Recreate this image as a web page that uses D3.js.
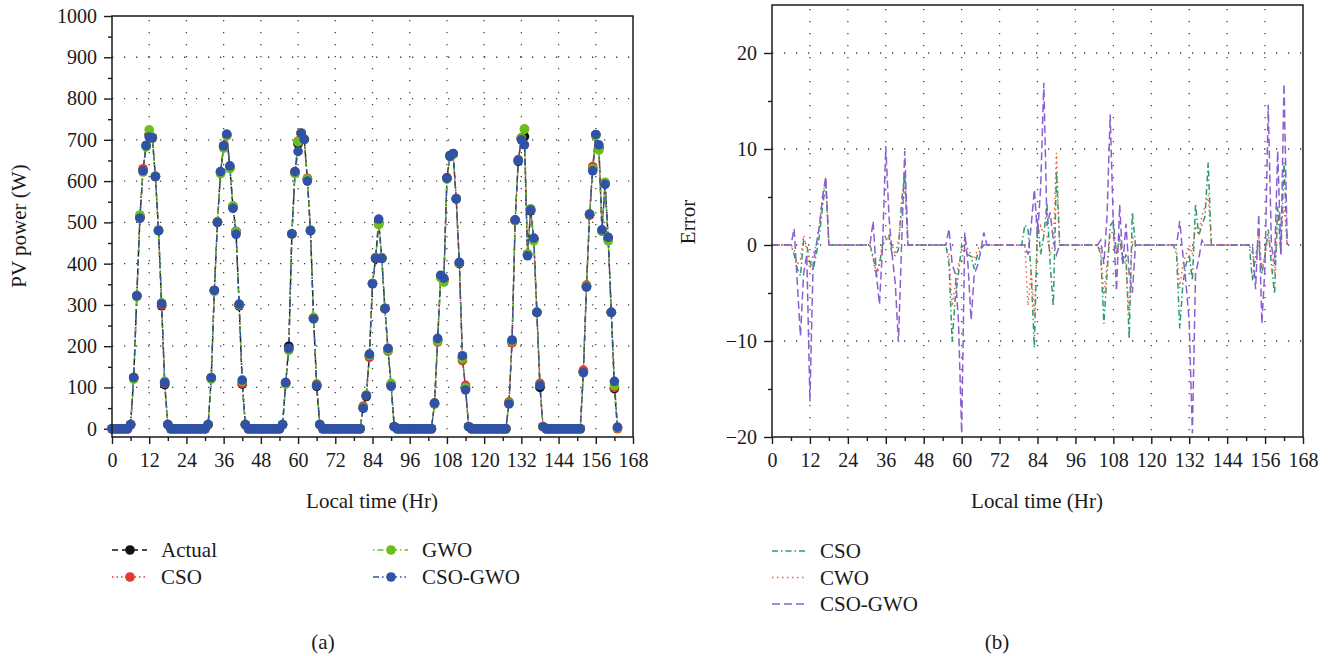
<!DOCTYPE html>
<html>
<head>
<meta charset="utf-8">
<script src="https://cdn.jsdelivr.net/npm/d3@7"></script>
<style>
  body { margin: 0; background: #fff; }
  svg { display: block; font-family: "Liberation Serif", "Times New Roman", serif; }
  .tick text { font-size: 20px; fill: #1a1a1a; }
  .tick line { stroke: #1a1a1a; stroke-width: 1.4; }
</style>
</head>
<body>
<div id="chart"></div>
<script>
// hourly time base, 0..163
const hours = d3.range(0, 164)

// (a) measured and forecast PV power (W)
const actual = [
  0,0,0,0,0,0,
  10,124,322,512,625,686,712,705,611,480,298,107,10,
  0,0,0,0,0,0,0,0,0,0,0,0,
  10,123,335,500,620,685,712,632,538,478,298,108,10,
  0,0,0,0,0,0,0,0,0,0,0,
  10,110,200,472,620,690,716,701,605,480,268,103,10,
  0,0,0,0,0,0,0,0,0,0,0,0,0,
  50,78,178,352,412,500,413,291,192,106,5,
  0,0,0,0,0,0,0,0,0,0,0,0,
  60,215,368,362,608,662,666,557,400,172,98,5,
  0,0,0,0,0,0,0,0,0,0,0,0,
  62,212,505,648,704,708,422,528,460,282,100,5,
  0,0,0,0,0,0,0,0,0,0,0,0,
  138,345,518,630,712,680,480,595,460,282,97,2
]
const cso = [
  0,0,0,0,0,0,
  10,124,322,515,630,686,712,705,611,480,300,110,10,
  0,0,0,0,0,0,0,0,0,0,0,0,
  10,122,335,500,622,684,710,634,536,478,300,110,10,
  0,0,0,0,0,0,0,0,0,0,0,
  10,112,192,472,622,697,716,701,607,480,268,108,10,
  0,0,0,0,0,0,0,0,0,0,0,0,0,
  55,80,173,352,415,495,413,291,188,106,5,
  0,0,0,0,0,0,0,0,0,0,0,0,
  62,210,368,360,607,660,665,557,402,165,105,5,
  0,0,0,0,0,0,0,0,0,0,0,0,
  65,208,505,652,704,726,422,530,460,282,110,5,
  0,0,0,0,0,0,0,0,0,0,0,0,
  142,348,518,635,712,682,480,594,460,282,100,0
]
const gwo = [
  0,0,0,0,0,0,
  10,120,320,518,622,683,724,705,612,482,305,115,10,
  0,0,0,0,0,0,0,0,0,0,0,0,
  10,120,333,502,618,680,710,630,540,478,300,115,10,
  0,0,0,0,0,0,0,0,0,0,0,
  10,108,190,472,618,695,716,701,605,482,270,106,10,
  0,0,0,0,0,0,0,0,0,0,0,0,0,
  52,82,178,352,414,495,415,292,190,110,5,
  0,0,0,0,0,0,0,0,0,0,0,0,
  60,212,366,355,605,660,665,558,402,170,100,5,
  0,0,0,0,0,0,0,0,0,0,0,0,
  62,212,504,650,704,726,424,533,455,282,106,5,
  0,0,0,0,0,0,0,0,0,0,0,0,
  136,345,520,630,710,675,478,597,455,282,105,2
]
const csoGwo = [
  0,0,0,0,0,0,
  10,124,322,510,625,686,707,705,611,480,303,112,10,
  0,0,0,0,0,0,0,0,0,0,0,0,
  10,124,335,500,623,685,714,637,534,471,302,118,10,
  0,0,0,0,0,0,0,0,0,0,0,
  10,112,195,472,623,672,716,701,600,480,266,105,10,
  0,0,0,0,0,0,0,0,0,0,0,0,0,
  50,80,181,351,413,508,413,291,195,103,5,
  0,0,0,0,0,0,0,0,0,0,0,0,
  62,219,372,365,607,660,667,557,403,177,94,5,
  0,0,0,0,0,0,0,0,0,0,0,0,
  60,215,506,650,700,688,419,530,462,282,105,5,
  0,0,0,0,0,0,0,0,0,0,0,0,
  136,343,520,625,713,688,482,592,464,282,115,4
]

// (b) forecast error
const errCso = [
  0,0,0,0,0,0,
  0,-1,-2.5,-3.2,0.5,0,-1.8,-2.6,-1,1,4,6.5,0,
  0,0,0,0,0,0,0,0,0,0,0,0,
  0,-1.2,-2.9,-2,0,0.5,1,-1,-1.1,-0.5,4.6,7.3,0,
  0,0,0,0,0,0,0,0,0,0,0,
  0,-2,-10.1,-5.4,-3,0,-0.7,-1,-1.2,-2.5,-1,-0.5,0,
  0,0,0,0,0,0,0,0,0,0,0,0,2.1,
  1.7,-3,-10.7,2.7,-1,1,4.4,-2,-6.4,7.7,0,
  0,0,0,0,0,0,0,0,0,0,0,0,
  -1,-8.2,-3,2,2.5,-1,1,-2,-1,-9.8,3.4,0,
  0,0,0,0,0,0,0,0,0,0,0,0,
  -1,-8.7,-4,-2,-1,-3.7,4.3,1,2,3,8.6,0,
  0,0,0,0,0,0,0,0,0,0,0,0,
  -3.7,-1,0,-3,-1,1.6,-2,-5.1,4,-1,8.6,0
]
const errCwo = [
  0,0,0,0,0,0,
  0,-0.5,-2,-1.5,1,-0.5,-2.5,-1,0,2,5,7,0,
  0,0,0,0,0,0,0,0,0,0,0,0,
  0,-1.5,-3.4,-2,0.5,1,0.5,0,-1,0.5,3.2,6.2,0,
  0,0,0,0,0,0,0,0,0,0,0,
  0,-1,-6.4,-4,-2,-1.8,0.8,-0.5,-1,-1.5,-0.5,0,0,
  0,0,0,0,0,0,0,0,0,0,0,0,0,
  -6.3,-2.8,-7.3,1,2,1,1,-1,0,9.6,0,
  0,0,0,0,0,0,0,0,0,0,0,0,
  -0.5,-5.2,-2,1,1.5,-1,0.5,-1.5,-2,-7.3,1,0,
  0,0,0,0,0,0,0,0,0,0,0,0,
  -0.5,-4.5,-2,-1,0,-1,2,1,3,4,5.2,0,
  0,0,0,0,0,0,0,0,0,0,0,0,
  -1,-2,1,-2.5,-1,1,-1,-3,3,2,4,0
]
const errCsoGwo = [
  0,0,0,0,0,0,
  0,1.7,-4,-9.5,-3,-1,-16.3,-2,0,2,5,7.1,0,
  0,0,0,0,0,0,0,0,0,0,0,0,
  0,2.5,-3,-6.2,0,10.3,3,-1,-4,-10.1,0,9.8,0,
  0,0,0,0,0,0,0,0,0,0,0,
  0,1.7,-2,-3,-8,-19.6,1.3,-2,-7.8,-3,-2.2,-0.7,1.3,
  0,0,0,0,0,0,0,0,0,0,0,0,0,
  -1,2,5.8,1,6,16.9,2,3.4,0.5,-1,0,
  0,0,0,0,0,0,0,0,0,0,0,0,
  0.5,-2,3,13.6,2,-4.8,4.2,-2,2.2,-3,-5,0,
  0,0,0,0,0,0,0,0,0,0,0,0,
  0,2.5,-1,-4,-8,-19.6,-3,-1.5,0.5,0,0,0,
  0,0,0,0,0,0,0,0,0,0,0,0,
  0,-4.6,3.2,-8.2,-2,14.6,0,-2,9.8,-1,16.8,0
]

const xTicks = d3.range(0, 169, 12)
const powerTicks = d3.range(0, 1001, 100)
const errorTicks = [-20, -10, 0, 10, 20]

const width = 1332, height = 656

const svg = d3.select('#chart')
.append('svg')
.attr('width', width)
.attr('height', height)

// ---------- panel (a) ----------
const xA = d3.scaleLinear().domain([0, 168]).range([112, 633])
const yA = d3.scaleLinear().domain([-20, 1000]).range([437, 16])

// ---------- panel (b) ----------
const xB = d3.scaleLinear().domain([0, 168]).range([772, 1303])
const yB = d3.scaleLinear().domain([-20, 25]).range([437, 5])

const drawFrame = (x, y, yTicks, yMinor, gridY) => {

	const g = svg.append('g')
	const [x0, x1] = x.range()
	const [y0, y1] = y.range()

	// dotted grid
	g.append('g')
	.selectAll('line')
	.data(gridY)
	.enter()
	.append('line')
	.attr('x1', x0).attr('x2', x1)
	.attr('y1', d => y(d)).attr('y2', d => y(d))
	.attr('stroke', '#444')
	.attr('stroke-width', 1.3)
	.attr('stroke-dasharray', '1.3 10.7')

	g.append('g')
	.selectAll('line')
	.data(xTicks.filter(d => d > 0 && d < 168))
	.enter()
	.append('line')
	.attr('x1', d => x(d)).attr('x2', d => x(d))
	.attr('y1', y1 + 4).attr('y2', y0)
	.attr('stroke', '#444')
	.attr('stroke-width', 1.3)
	.attr('stroke-dasharray', '1.3 10.7')

	// minor ticks
	g.append('g')
	.attr('transform', `translate(${x0},0)`)
	.call(d3.axisLeft(y).tickValues(yMinor).tickSize(4).tickSizeOuter(0).tickFormat(''))
	.call(a => a.select('.domain').remove())

	g.append('g')
	.attr('transform', `translate(0,${y0})`)
	.call(d3.axisBottom(x).tickValues(d3.range(6, 168, 12)).tickSize(4).tickSizeOuter(0).tickFormat(''))
	.call(a => a.select('.domain').remove())

	// major ticks
	g.append('g')
	.attr('transform', `translate(${x0},0)`)
	.call(d3.axisLeft(y).tickValues(yTicks).tickSize(8).tickSizeOuter(0).tickPadding(7)
		.tickFormat(d => d < 0 ? '\u2212' + Math.abs(d) : d))
	.call(a => a.select('.domain').remove())

	g.append('g')
	.attr('transform', `translate(0,${y0})`)
	.call(d3.axisBottom(x).tickValues(xTicks).tickSize(7).tickSizeOuter(0).tickPadding(9))
	.call(a => a.select('.domain').remove())

	g.selectAll('.tick text').attr('font-family', '"Liberation Serif", serif').attr('font-size', 20)

	return g
}

const closeFrame = (x, y) => {
	const [x0, x1] = x.range()
	const [y0, y1] = y.range()
	svg.append('path')
	.attr('d', `M${x0},${y1}H${x1}V${y0}H${x0}Z`)
	.attr('fill', 'none')
	.attr('stroke', '#1a1a1a')
	.attr('stroke-width', 1.5)
}

drawFrame(xA, yA, powerTicks, d3.range(50, 1000, 100), d3.range(100, 1000, 100))
drawFrame(xB, yB, errorTicks, [-15, -5, 5, 15], [-10, 0, 10, 20])

// ---------- series (a) ----------
const seriesA = [
	{ name: 'Actual', values: actual, color: '#111111', dash: '6 4' },
	{ name: 'CSO', values: cso, color: '#e43a2b', dash: '1.5 3' },
	{ name: 'GWO', values: gwo, color: '#68c018', dash: '1.5 3 6 3' },
	{ name: 'CSO-GWO', values: csoGwo, color: '#2f52a8', dash: '6 3 1.5 3 1.5 3' }
]

const lineA = d3.line().x((d, i) => xA(hours[i])).y(d => yA(d))

seriesA.forEach(s => {
	svg.append('path')
	.attr('d', lineA(s.values))
	.attr('fill', 'none')
	.attr('stroke', s.color)
	.attr('stroke-width', 1.4)
	.attr('stroke-dasharray', s.dash)
})

seriesA.forEach(s => {
	svg.append('g')
	.selectAll('circle')
	.data(s.values)
	.enter()
	.append('circle')
	.attr('cx', (d, i) => xA(hours[i]))
	.attr('cy', d => yA(d))
	.attr('r', 4.8)
	.attr('fill', s.color)
})

closeFrame(xA, yA)

// ---------- series (b) ----------
const seriesB = [
	{ name: 'CSO', values: errCso, color: '#2a9a6c', dash: '6 3 1.5 3' },
	{ name: 'CWO', values: errCwo, color: '#f0603a', dash: '1.5 3.5' },
	{ name: 'CSO-GWO', values: errCsoGwo, color: '#8a5fd0', dash: '8 4' }
]

const lineB = d3.line().x((d, i) => xB(hours[i])).y(d => yB(d))

seriesB.forEach(s => {
	svg.append('path')
	.attr('d', lineB(s.values))
	.attr('fill', 'none')
	.attr('stroke', s.color)
	.attr('stroke-width', 1.5)
	.attr('stroke-dasharray', s.dash)
})

closeFrame(xB, yB)

// ---------- titles ----------
const label = (x, y, text, rotate) => {
	svg.append('text')
	.attr('transform', `translate(${x},${y})` + (rotate ? ' rotate(-90)' : ''))
	.attr('text-anchor', 'middle')
	.attr('dominant-baseline', 'central')
	.attr('font-size', 21)
	.attr('fill', '#1a1a1a')
	.text(text)
}

label(372, 501, 'Local time (Hr)')
label(1037, 501, 'Local time (Hr)')
label(19, 226, 'PV power (W)', true)
label(688, 222, 'Error', true)
label(323, 642, '(a)')
label(997, 642, '(b)')

// ---------- legends ----------
const legendA = [
	{ s: seriesA[0], x: 112, y: 550 },
	{ s: seriesA[1], x: 112, y: 577 },
	{ s: seriesA[2], x: 373, y: 550 },
	{ s: seriesA[3], x: 373, y: 577 }
]

legendA.forEach(l => {
	const g = svg.append('g').attr('transform', `translate(${l.x},${l.y})`)
	g.append('line')
	.attr('x1', 0).attr('x2', 35)
	.attr('stroke', l.s.color)
	.attr('stroke-width', 1.4)
	.attr('stroke-dasharray', l.s.dash)
	g.append('circle').attr('cx', 18).attr('r', 4.8).attr('fill', l.s.color)
	g.append('text')
	.attr('x', 49)
	.attr('dominant-baseline', 'central')
	.attr('font-size', 21)
	.attr('fill', '#1a1a1a')
	.text(l.s.name)
})

seriesB.forEach((s, i) => {
	const g = svg.append('g').attr('transform', `translate(772,${551 + i * 26.5})`)
	g.append('line')
	.attr('x1', 0).attr('x2', 34)
	.attr('stroke', s.color)
	.attr('stroke-width', 1.5)
	.attr('stroke-dasharray', s.dash)
	g.append('text')
	.attr('x', 48)
	.attr('dominant-baseline', 'central')
	.attr('font-size', 21)
	.attr('fill', '#1a1a1a')
	.text(s.name)
})
</script>
</body>
</html>
